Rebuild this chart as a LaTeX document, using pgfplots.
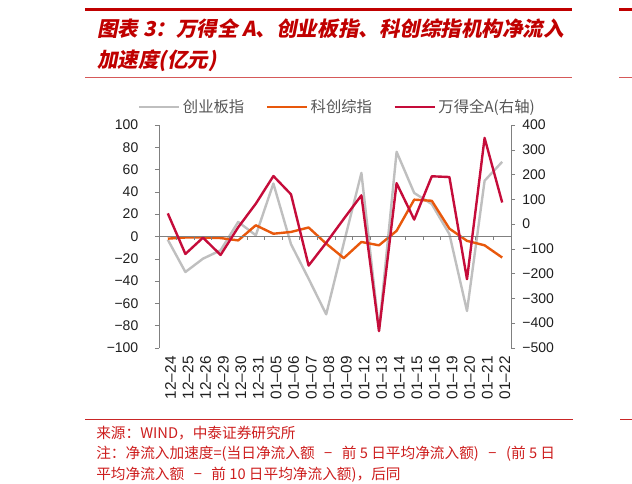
\documentclass[border=0pt]{standalone}
\usepackage{pgfplots}
\pgfplotsset{compat=1.18}
\usepackage{fontspec}
\setmainfont{Liberation Sans}
\newfontfamily\cjk{Noto Sans CJK SC}
\newfontfamily\cjktitle[FakeSlant=0.2]{Noto Sans CJK SC}
\definecolor{titlered}{RGB}{192,0,0}
\definecolor{notered}{RGB}{205,30,30}
\definecolor{cgray}{RGB}{191,191,191}
\definecolor{corange}{RGB}{232,88,12}
\definecolor{cred}{RGB}{197,12,58}
\definecolor{axisgray}{RGB}{128,128,128}
\definecolor{labelcol}{RGB}{30,30,30}
\definecolor{legcol}{RGB}{85,85,85}
\pgfplotsset{
  grayline/.style={color=cgray, line width=1.8pt, line join=round},
  orangeline/.style={color=corange, line width=1.8pt, line join=round},
  redline/.style={color=cred, line width=1.8pt, line join=round},
}
\newcommand\mn{\hspace{0.65em}−\hspace{0.65em}}
\begin{document}
\begin{tikzpicture}
\path[use as bounding box] (0pt,0pt) rectangle (474pt,-363pt);
% frame lines
\draw[color=titlered, line width=2.25pt] (63.75pt,-7.5pt) -- (429pt,-7.5pt);
\draw[color=titlered!65, line width=0.75pt] (63.75pt,-58.5pt) -- (429pt,-58.5pt);
\draw[color=titlered!85, line width=0.75pt] (63.75pt,-315pt) -- (429.75pt,-315pt);
\draw[color=titlered, line width=2.25pt] (464.25pt,-7.5pt) -- (474pt,-7.5pt);
\draw[color=titlered!65, line width=0.75pt] (464.25pt,-58.5pt) -- (474pt,-58.5pt);
\draw[color=titlered!85, line width=0.75pt] (465pt,-315pt) -- (474pt,-315pt);
% title
\node[anchor=west, inner sep=0pt, text=titlered, font=\cjktitle\bfseries\fontsize{15.4}{18}\selectfont] at (72.75pt,-21.75pt) {图表 3：万得全 A、创业板指、科创综指机构净流入};
\node[anchor=west, inner sep=0pt, text=titlered, font=\cjktitle\bfseries\fontsize{15.4}{18}\selectfont] at (72.75pt,-45.75pt) {加速度(亿元)};
% notes
\node[anchor=west, inner sep=0pt, text=notered, font=\cjk\fontsize{11}{13}\selectfont] at (72pt,-324.75pt) {来源：WIND，中泰证券研究所};
\node[anchor=west, inner sep=0pt, text=notered, font=\cjk\fontsize{11}{13}\selectfont] at (72pt,-340.5pt) {注：净流入加速度=(当日净流入额\mn 前 5 日平均净流入额)\mn (前 5 日};
\node[anchor=west, inner sep=0pt, text=notered, font=\cjk\fontsize{11}{13}\selectfont] at (72pt,-356.25pt) {平均净流入额\mn 前 10 日平均净流入额)，后同};

\begin{axis}[
  at={(119.25pt,-260.8pt)}, anchor=south west,
  scale only axis, width=264pt, height=167pt,
  xmin=-0.5, xmax=19.5, ymin=-100, ymax=100,
  axis y line*=left, axis x line*=bottom,
  x axis line style={draw=none},
  xtick={0,...,19},
  xticklabels={12–24,12–25,12–26,12–29,12–30,12–31,01–05,01–06,01–07,01–08,01–09,01–12,01–13,01–14,01–15,01–16,01–19,01–20,01–21,01–22},
  xtick style={draw=none},
  xticklabel style={rotate=90, anchor=east, yshift=-2pt, font=\fontsize{11.5}{13}\selectfont, text=labelcol},
  ytick={-100,-80,...,100},
  yticklabels={−100,−80,−60,−40,−20,0,20,40,60,80,100},
  y axis line style={draw=axisgray},
  ytick style={draw=axisgray},
  tick align=outside, major tick length=3pt,
  yticklabel style={font=\fontsize{10.5}{12}\selectfont, text=labelcol, xshift=-9pt},
]
\addplot[grayline] coordinates {(0,-3) (1,-32) (2,-20) (3,-12.5) (4,13) (5,1) (6,47.5) (7,-7) (8,-38) (9,-70) (10,-6) (11,57) (12,-84) (13,76) (14,39) (15,29) (16,2) (17,-67) (18,50) (19,67)};
\addplot[orangeline] coordinates {(0,-2) (1,-1) (2,-1) (3,-1.5) (4,-3.6) (5,10) (6,2.4) (7,4) (8,8) (9,-6.5) (10,-19.5) (11,-5) (12,-8) (13,5) (14,33) (15,32) (16,7) (17,-4) (18,-8) (19,-19)};
\draw[axisgray, line width=0.6pt] (axis cs:-0.5,0) -- (axis cs:19.5,0);
\pgfplotsinvokeforeach{0.5,1.5,...,18.5}{\draw[axisgray, line width=0.6pt] (axis cs:#1,0) -- ++(0pt,-2.5pt);}
\end{axis}

\begin{axis}[
  at={(119.25pt,-260.8pt)}, anchor=south west,
  scale only axis, width=264pt, height=167pt,
  xmin=-0.5, xmax=19.5, ymin=-500, ymax=400,
  axis y line*=right, axis x line=none,
  ytick={-500,-400,...,400},
  yticklabels={−500,−400,−300,−200,−100,0,100,200,300,400},
  y axis line style={draw=axisgray},
  ytick style={draw=axisgray},
  tick align=outside, major tick length=3pt,
  yticklabel style={font=\fontsize{10.5}{12}\selectfont, text=labelcol, xshift=2pt},
  legend columns=3,
  legend style={at={(0.5,1)}, anchor=center, yshift=13.5pt, xshift=2pt, draw=none, fill=none,
    font=\cjk\fontsize{11.5}{13}\selectfont, text=legcol,
    /tikz/every even column/.append style={column sep=14pt}},
  legend image code/.code={\draw[#1] (0pt,0pt) -- (30pt,0pt);},
]
\addlegendimage{grayline}
\addlegendentry{创业板指}
\addlegendimage{orangeline}
\addlegendentry{科创综指}
\addplot[redline] coordinates {(0,43) (1,-121) (2,-55) (3,-125) (4,-13) (5,82) (6,194) (7,120) (8,-168) (9,-76) (10,21) (11,116) (12,-433) (13,165) (14,18) (15,193) (16,190) (17,-223) (18,348) (19,87)};
\addlegendentry{万得全A(右轴)}
\end{axis}
\end{tikzpicture}
\end{document}
